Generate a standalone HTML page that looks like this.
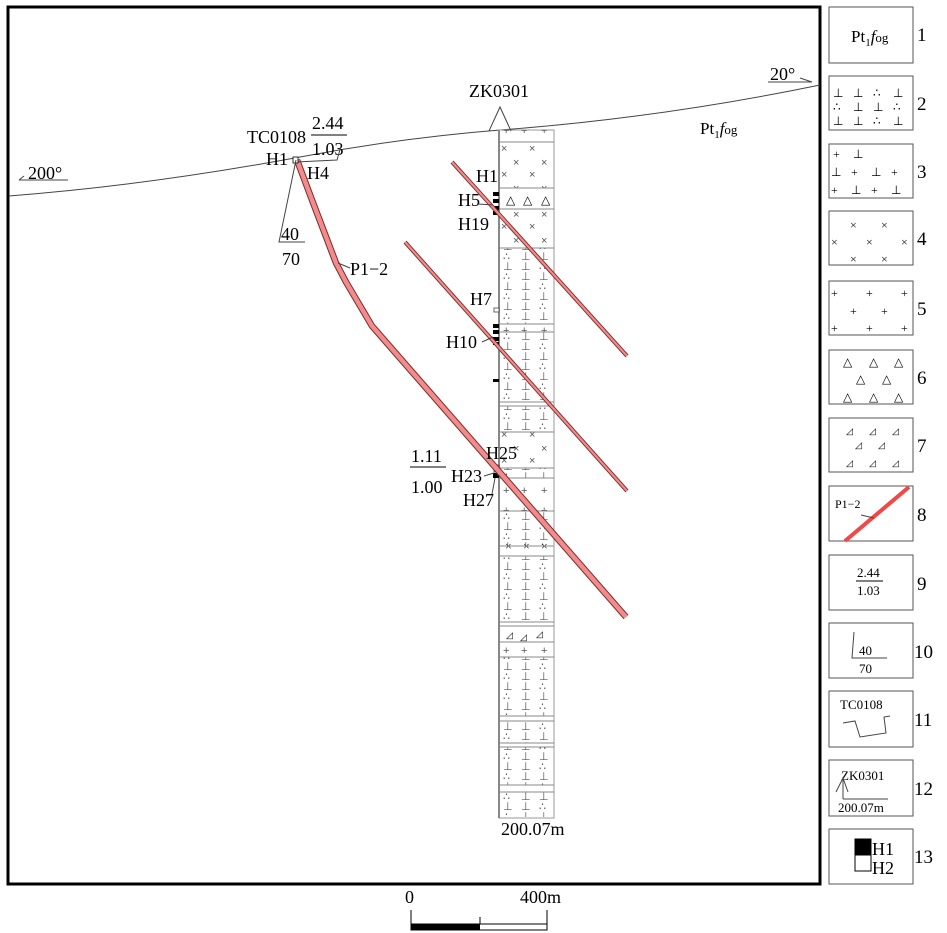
<!DOCTYPE html>
<html><head><meta charset="utf-8"><style>
html,body{margin:0;padding:0;background:#fff}
svg{display:block}
text{font-family:"Liberation Serif",serif;fill:#000}
.g{fill:#555;font-size:11px;font-family:"Liberation Sans",sans-serif}
.pre{white-space:pre}
</style></head><body>
<svg width="947" height="933" viewBox="0 0 947 933" xmlns="http://www.w3.org/2000/svg" xml:space="preserve">
<defs>
<pattern id="p2" width="54" height="20" patternUnits="userSpaceOnUse" x="499" y="0">
<text class="g" x="4" y="10">⊥</text><text class="g" x="22" y="10">⊥</text><text class="g" x="40" y="10">∴</text>
<text class="g" x="4" y="20">∴</text><text class="g" x="22" y="20">⊥</text><text class="g" x="40" y="20">⊥</text>
</pattern>
<pattern id="px" width="54" height="26" patternUnits="userSpaceOnUse" x="499" y="0">
<text class="g" x="14" y="10">×</text><text class="g" x="42" y="10">×</text>
<text class="g" x="2" y="22">×</text><text class="g" x="30" y="22">×</text>
</pattern>
<pattern id="pp" width="54" height="20" patternUnits="userSpaceOnUse" x="499" y="0">
<text class="g" x="4" y="14">+</text><text class="g" x="22" y="14">+</text><text class="g" x="42" y="14">+</text>
</pattern>
</defs>

<rect x="8" y="7" width="812" height="877" fill="none" stroke="#000" stroke-width="3"/>

<path d="M9,196 Q150,185 300,157 Q400,138 500,130 Q660,118 820,85" fill="none" stroke="#444" stroke-width="1"/>
<text x="28" y="179" font-size="18">200°</text>
<line x1="19" y1="180" x2="68" y2="180" stroke="#444"/>
<line x1="19" y1="180" x2="24" y2="176" stroke="#444"/>
<text x="770" y="80" font-size="18">20°</text>
<line x1="768" y1="82" x2="812" y2="82" stroke="#444"/>
<line x1="800" y1="78" x2="812" y2="82" stroke="#444"/>
<text x="700" y="134" font-size="17">Pt<tspan font-size="11" dy="4">1</tspan><tspan dy="-4" font-style="italic">f</tspan><tspan font-size="13">og</tspan></text>

<rect x="499" y="130" width="55" height="688" fill="#fff" stroke="#999" stroke-width="1"/>
<rect x="500" y="142" width="54" height="46" fill="url(#px)"/>
<rect x="500" y="130" width="54" height="12" fill="url(#pp)"/>
<rect x="500" y="209" width="54" height="39" fill="url(#px)"/>
<rect x="500" y="248" width="54" height="76" fill="url(#p2)"/>
<rect x="500" y="324" width="54" height="8" fill="url(#pp)"/>
<rect x="500" y="332" width="54" height="70" fill="url(#p2)"/>
<rect x="500" y="406" width="54" height="26" fill="url(#p2)"/>
<rect x="500" y="432" width="54" height="36" fill="url(#px)"/>
<rect x="500" y="468" width="54" height="10" fill="url(#p2)"/>
<rect x="500" y="478" width="54" height="33" fill="url(#pp)"/>
<rect x="500" y="511" width="54" height="35" fill="url(#p2)"/>
<rect x="500" y="556" width="54" height="66" fill="url(#p2)"/>
<rect x="500" y="642" width="54" height="15" fill="url(#pp)"/>
<rect x="500" y="657" width="54" height="59" fill="url(#p2)"/>
<rect x="500" y="721" width="54" height="22" fill="url(#p2)"/>
<rect x="500" y="747" width="54" height="38" fill="url(#p2)"/>
<rect x="500" y="792" width="54" height="25" fill="url(#p2)"/>
<g font-family="Liberation Sans" font-size="12" fill="#555">
<text x="506" y="204">△</text><text x="523" y="204">△</text><text x="541" y="204">△</text>
<text x="505" y="550">×</text><text x="523" y="550">×</text><text x="541" y="550">×</text>
<text x="506" y="638" font-size="9">◿</text><text x="520" y="640" font-size="9">◿</text><text x="536" y="637" font-size="9">◿</text>
</g>
<g stroke="#888" stroke-width="1">
<line x1="499" y1="142" x2="554" y2="142"/><line x1="499" y1="188" x2="554" y2="188"/>
<line x1="499" y1="209" x2="554" y2="209"/><line x1="499" y1="248" x2="554" y2="248"/>
<line x1="499" y1="324" x2="554" y2="324"/><line x1="499" y1="332" x2="554" y2="332"/>
<line x1="499" y1="402" x2="554" y2="402"/><line x1="499" y1="406" x2="554" y2="406"/>
<line x1="499" y1="432" x2="554" y2="432"/><line x1="499" y1="468" x2="554" y2="468"/>
<line x1="499" y1="478" x2="554" y2="478"/><line x1="499" y1="511" x2="554" y2="511"/>
<line x1="499" y1="546" x2="554" y2="546"/><line x1="499" y1="556" x2="554" y2="556"/>
<line x1="499" y1="622" x2="554" y2="622"/><line x1="499" y1="626" x2="554" y2="626"/>
<line x1="499" y1="642" x2="554" y2="642"/><line x1="499" y1="657" x2="554" y2="657"/>
<line x1="499" y1="716" x2="554" y2="716"/><line x1="499" y1="721" x2="554" y2="721"/>
<line x1="499" y1="743" x2="554" y2="743"/><line x1="499" y1="747" x2="554" y2="747"/>
<line x1="499" y1="785" x2="554" y2="785"/><line x1="499" y1="792" x2="554" y2="792"/>
</g>
<line x1="499" y1="130" x2="499" y2="818" stroke="#888" stroke-width="2"/>
<g fill="#000">
<rect x="493" y="192" width="6" height="4"/><rect x="493" y="199" width="6" height="4"/><rect x="493" y="206" width="6" height="4"/><rect x="493" y="211" width="6" height="4"/>
<rect x="493" y="324" width="6" height="4"/><rect x="493" y="330" width="6" height="4"/><rect x="493" y="337" width="6" height="4"/><rect x="493" y="342" width="6" height="3"/>
<rect x="493" y="379" width="6" height="3"/>
<rect x="493" y="473" width="6" height="5"/>
</g>
<rect x="494" y="308" width="5" height="4" fill="#fff" stroke="#444" stroke-width="0.8"/>
<rect x="494" y="465" width="5" height="7" fill="#fff" stroke="#444" stroke-width="0.8"/>

<!-- veins -->
<g fill="none" stroke-linejoin="round">
<polyline points="297,160 312,200 336,263 346,282 372,326 626,617" stroke="#7a2a2a" stroke-width="6.5"/>
<polyline points="297,160 312,200 336,263 346,282 372,326 626,617" stroke="#f28c8c" stroke-width="4.5"/>
<line x1="405" y1="242" x2="627" y2="491" stroke="#7a2a2a" stroke-width="4"/>
<line x1="405" y1="242" x2="627" y2="491" stroke="#f28c8c" stroke-width="2.2"/>
<line x1="452" y1="162" x2="627" y2="356" stroke="#7a2a2a" stroke-width="4"/>
<line x1="452" y1="162" x2="627" y2="356" stroke="#f28c8c" stroke-width="2.2"/>
</g>

<polyline points="489,131 500,107 511,131" fill="none" stroke="#444"/>
<text x="469" y="97" font-size="18">ZK0301</text>
<text x="501" y="835" font-size="18">200.07m</text>

<g font-size="18">
<text x="247" y="143">TC0108</text>
<text x="312" y="129">2.44</text><line x1="311" y1="135" x2="347" y2="135" stroke="#000"/>
<text x="312" y="155">1.03</text>
<polyline points="296,162 337,160 341,146" fill="none" stroke="#444"/>
<text x="266" y="165">H1</text>
<text x="307" y="179">H4</text>
<rect x="293" y="157" width="5" height="6" fill="#fff" stroke="#000" stroke-width="0.8"/>
<polyline points="296,160 279,242 305,242" fill="none" stroke="#444"/>
<text x="281" y="240">40</text>
<text x="282" y="265">70</text>
<text x="350" y="275">P1−2</text>
<line x1="338" y1="263" x2="350" y2="268" stroke="#444"/>
<text x="476" y="182">H1</text>
<text x="458" y="206">H5</text><line x1="478" y1="204" x2="493" y2="205" stroke="#444"/>
<text x="458" y="230">H19</text>
<text x="470" y="305">H7</text>
<text x="446" y="348">H10</text><line x1="482" y1="342" x2="493" y2="337" stroke="#444"/>
<text x="411" y="462">1.11</text><line x1="410" y1="467" x2="446" y2="467" stroke="#000"/>
<text x="411" y="493">1.00</text>
<text x="451" y="482">H23</text><line x1="484" y1="476" x2="494" y2="473" stroke="#444"/>
<text x="486" y="459">H25</text>
<text x="463" y="506">H27</text><line x1="492" y1="494" x2="495" y2="478" stroke="#444"/>
</g>

<text x="405" y="903" font-size="18">0</text>
<text x="520" y="903" font-size="18">400m</text>
<g stroke="#000">
<line x1="411" y1="910" x2="411" y2="930"/><line x1="547" y1="910" x2="547" y2="930"/><line x1="480" y1="917" x2="480" y2="924"/>
<rect x="411" y="924" width="136" height="6" fill="#fff"/>
</g>
<rect x="411" y="924" width="69" height="6" fill="#000"/>

<g fill="#fff" stroke="#555" stroke-width="1">
<rect x="829" y="7" width="84" height="56"/>
<rect x="829" y="76" width="84" height="54"/>
<rect x="829" y="144" width="84" height="54"/>
<rect x="829" y="211" width="84" height="54"/>
<rect x="829" y="281" width="84" height="54"/>
<rect x="829" y="350" width="84" height="54"/>
<rect x="829" y="418" width="84" height="54"/>
<rect x="829" y="486" width="84" height="55"/>
<rect x="829" y="555" width="84" height="55"/>
<rect x="829" y="623" width="84" height="55"/>
<rect x="829" y="691" width="84" height="56"/>
<rect x="829" y="760" width="84" height="56"/>
<rect x="829" y="829" width="84" height="55"/>
</g>
<g font-size="19">
<text x="917" y="41">1</text><text x="917" y="110">2</text><text x="917" y="178">3</text>
<text x="917" y="245">4</text><text x="917" y="315">5</text><text x="917" y="384">6</text>
<text x="917" y="452">7</text><text x="917" y="521">8</text><text x="917" y="590">9</text>
<text x="914" y="658">10</text><text x="914" y="726">11</text><text x="914" y="795">12</text>
<text x="914" y="863">13</text>
</g>
<text x="851" y="42" font-size="17">Pt<tspan font-size="11" dy="4">1</tspan><tspan dy="-4" font-style="italic">f</tspan><tspan font-size="13">og</tspan></text>
<g font-family="Liberation Sans" font-size="12" fill="#555">
<text x="833" y="97">⊥</text><text x="853" y="97">⊥</text><text x="873" y="97">∴</text><text x="893" y="97">⊥</text>
<text x="833" y="111">∴</text><text x="853" y="111">⊥</text><text x="873" y="111">⊥</text><text x="893" y="111">∴</text>
<text x="833" y="125">⊥</text><text x="853" y="125">⊥</text><text x="873" y="125">∴</text><text x="893" y="125">⊥</text>
<text x="833" y="158">+</text><text x="853" y="158">⊥</text>
<text x="831" y="176">⊥</text><text x="851" y="176">+</text><text x="871" y="176">⊥</text><text x="891" y="176">+</text>
<text x="831" y="194">+</text><text x="851" y="194">⊥</text><text x="871" y="194">+</text><text x="891" y="194">⊥</text>
<text x="850" y="229">×</text><text x="881" y="229">×</text>
<text x="831" y="246">×</text><text x="866" y="246">×</text><text x="901" y="246">×</text>
<text x="850" y="263">×</text><text x="881" y="263">×</text>
<text x="831" y="297">+</text><text x="866" y="297">+</text><text x="901" y="297">+</text>
<text x="850" y="315">+</text><text x="881" y="315">+</text>
<text x="831" y="332">+</text><text x="866" y="332">+</text><text x="901" y="332">+</text>
<text x="843" y="366">△</text><text x="869" y="366">△</text><text x="894" y="366">△</text>
<text x="856" y="383">△</text><text x="882" y="383">△</text>
<text x="843" y="401">△</text><text x="869" y="401">△</text><text x="894" y="401">△</text>
<g font-size="9"><text x="846" y="434">◿</text><text x="869" y="434">◿</text><text x="892" y="434">◿</text>
<text x="855" y="448">◿</text><text x="878" y="448">◿</text>
<text x="846" y="466">◿</text><text x="869" y="466">◿</text><text x="892" y="466">◿</text></g>
</g>
<line x1="845" y1="541" x2="909" y2="487" stroke="#f04848" stroke-width="4"/>
<line x1="861" y1="515" x2="874" y2="518" stroke="#444"/>
<text x="835" y="508" font-size="12">P1−2</text>
<text x="857" y="577" font-size="13">2.44</text><line x1="856" y1="581" x2="883" y2="581" stroke="#000"/>
<text x="857" y="595" font-size="13">1.03</text>
<polyline points="854,632 852,658 887,658" fill="none" stroke="#444"/>
<text x="859" y="655" font-size="13">40</text>
<text x="859" y="673" font-size="13">70</text>
<text x="840" y="709" font-size="13">TC0108</text>
<polyline points="843,723 855,721 860,737 886,733 884,717 890,716" fill="none" stroke="#444"/>
<text x="841" y="780" font-size="13">ZK0301</text>
<polyline points="836,792 843,778 848,792" fill="none" stroke="#444"/>
<line x1="843" y1="778" x2="843" y2="799" stroke="#444"/><line x1="843" y1="799" x2="888" y2="799" stroke="#444"/>
<text x="838" y="812" font-size="13">200.07m</text>
<rect x="855" y="839" width="16" height="16" fill="#000" stroke="#000"/>
<rect x="855" y="855" width="16" height="16" fill="#fff" stroke="#000"/>
<text x="872" y="855" font-size="18">H1</text>
<text x="872" y="874" font-size="18">H2</text>
</svg>
</body></html>
